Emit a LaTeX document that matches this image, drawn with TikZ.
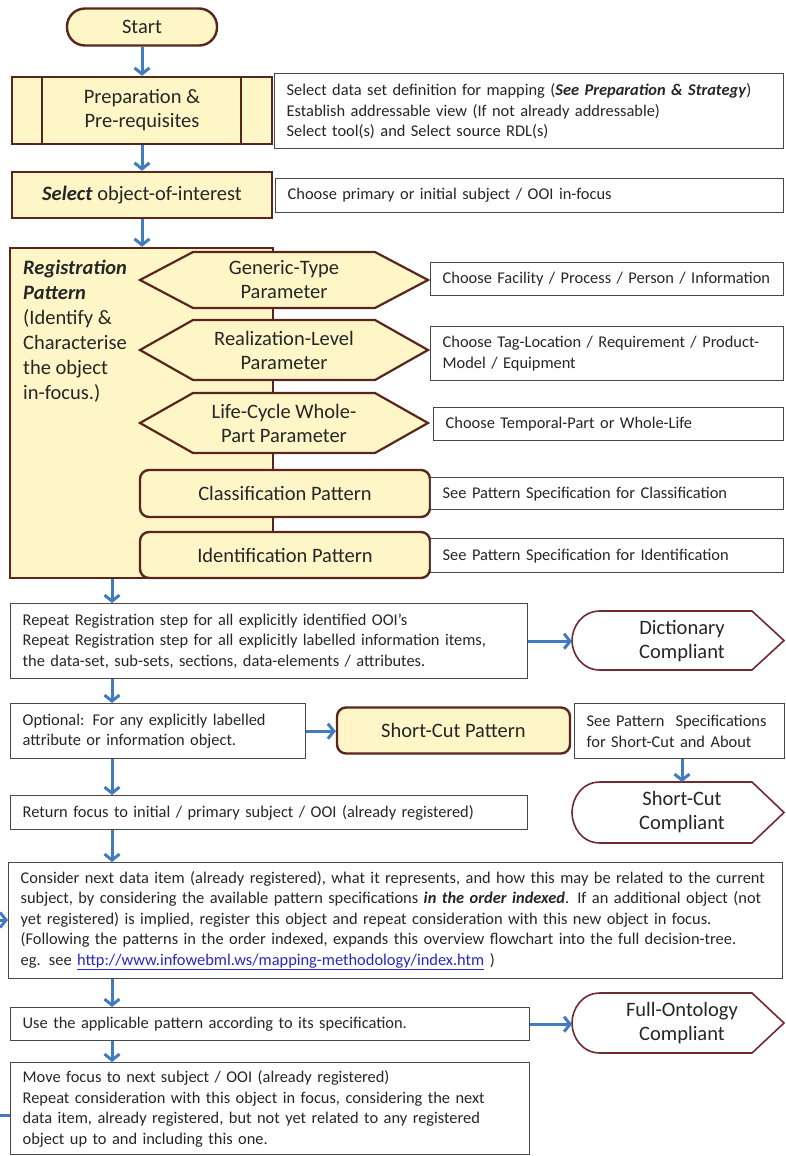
\documentclass[tikz,border=0pt]{standalone}
\usepackage{fontspec}
\setmainfont{Carlito}
\usetikzlibrary{calc,arrows.meta}

\definecolor{boxfill}{RGB}{255,246,200}
\definecolor{boxline}{RGB}{88,38,28}
\definecolor{flowblue}{RGB}{66,124,192}
\definecolor{noteline}{RGB}{72,72,72}
\definecolor{compline}{RGB}{112,42,52}
\definecolor{txt}{RGB}{38,38,38}
\definecolor{urlblue}{RGB}{40,40,190}

% display shape: name, top y, bottom y
\newcommand{\compbox}[3]{%
  \draw[compl] (600,#2) -- (752,#2) -- (784,{(#2+#3)/2}) -- (752,#3) -- (600,#3)
    .. controls (582,#3) and (572,{#3-16}) .. (572,{(#2+#3)/2})
    .. controls (572,{#2+16}) and (582,#2) .. (600,#2) -- cycle;
  \coordinate (#1) at (572,{(#2+#3)/2});
  \coordinate (#1top) at (682,#2);
}

\begin{document}
\begin{tikzpicture}[x=1pt,y=-1pt,
	every node/.style={text=txt},
	flow/.style={draw=boxline,line width=2.4pt,fill=boxfill,font=\fontsize{20.5}{24}\selectfont,align=center,inner sep=0pt},
	roundflow/.style={flow,rounded corners=9pt},
	lbl/.style={font=\fontsize{20.5}{24}\selectfont,align=center,inner sep=0pt},
	note/.style={draw=noteline,line width=1.4pt,fill=white,font=\fontsize{16.4}{20.5}\selectfont,align=left,inner xsep=12pt,inner ysep=0pt,anchor=north west},
	arr/.style={draw=flowblue,line width=3pt,-{Straight Barb[length=6pt,width=15pt]}},
	hexline/.style={draw=boxline,line width=2.2pt,fill=boxfill},
	compl/.style={draw=compline,line width=1.6pt,fill=white},
	comptext/.style={font=\fontsize{20.5}{24}\selectfont,align=center,inner sep=0pt}]
	\useasboundingbox (0,0) rectangle (786,1156);
	\def\hl{140}
	\def\hr{428}
	\def\hs{53}
	\coordinate (spine) at (112,0);

	% top part
	\node[flow,rounded corners=18pt,minimum width=150pt,minimum height=37pt] (start) at (142,27) {Start};
	\node[flow,minimum width=260pt,minimum height=67pt] (prep) at (142,110.5) {Preparation \&\\Pre-requisites};
	\draw[boxline,line width=2.4pt] ($(prep.north west)+(31,0)$) -- ($(prep.south west)+(31,0)$);
	\draw[boxline,line width=2.4pt] ($(prep.north east)+(-32,0)$) -- ($(prep.south east)+(-32,0)$);
	\node[note,text width=485pt,minimum height=75pt] (prepnote) at (274,73)
		{Select data set definition for mapping (\textbf{\textit{See Preparation \& Strategy}})\\
		Establish addressable view (If not already addressable)\\
		Select tool(s) and Select source RDL(s)};
	\node[flow,minimum width=260pt,minimum height=46pt] (select) at (142,195) {\textbf{\textit{Select}} object-of-interest};
	\node[note,text width=484pt,minimum height=34pt] (selnote) at (275,178) {Choose primary or initial subject / OOI in-focus};

	% registration pattern
	\node[flow,minimum width=263pt,minimum height=330pt] (reg) at (141.5,413) {};
	\node[lbl,align=left,anchor=north west] (regtext) at (23,259.5)
		{\textbf{\textit{Registration}}\\[1pt]\textbf{\textit{Pattern}}\\[1pt](Identify \&\\[1pt]Characterise\\[1pt]the object\\[1pt]in-focus.)};
	\draw[hexline] (\hl,280) -- (\hl+\hs,252) -- (\hr-\hs,252) -- (\hr,280) -- (\hr-\hs,308) -- (\hl+\hs,308) -- cycle;
	\node[lbl] (gen) at (284,280) {Generic-Type\\Parameter};
	\draw[hexline] (\hl,350) -- (\hl+\hs,320) -- (\hr-\hs,320) -- (\hr,350) -- (\hr-\hs,380) -- (\hl+\hs,380) -- cycle;
	\node[lbl] (real) at (284,350) {Realization-Level\\Parameter};
	\draw[hexline] (\hl,423) -- (\hl+\hs,393) -- (\hr-\hs,393) -- (\hr,423) -- (\hr-\hs,453) -- (\hl+\hs,453) -- cycle;
	\node[lbl] (life) at (284,423) {Life-Cycle Whole-\\Part Parameter};
	\node[roundflow,minimum width=290pt,minimum height=47pt] (class) at (285,493.5) {Classification Pattern};
	\node[roundflow,minimum width=290pt,minimum height=46pt] (ident) at (285,555) {Identification Pattern};

	\node[note,text width=329pt,minimum height=33pt] (gennote) at (430,262) {Choose Facility / Process / Person / Information};
	\node[note,text width=329pt,minimum height=54pt] (realnote) at (430,326) {Choose Tag-Location / Requirement / Product-\\Model / Equipment};
	\node[note,text width=326pt,minimum height=33pt] (lifenote) at (433,407) {Choose Temporal-Part or Whole-Life};
	\node[note,text width=329pt,minimum height=32pt] (classnote) at (430,477) {See Pattern Specification for Classification};
	\node[note,text width=329pt,minimum height=34pt] (identnote) at (430,538) {See Pattern Specification for Identification};

	% lower part
	\node[note,text width=493pt,minimum height=75pt] (repeat) at (10,603)
		{Repeat Registration step for all explicitly identified OOI’s\\
		Repeat Registration step for all explicitly labelled information items,\\
		the data-set, sub-sets, sections, data-elements / attributes.};
	\compbox{dict}{611}{670}
	\node[comptext] (dicttext) at (682,641) {Dictionary\\Compliant};
	\node[note,text width=271pt,minimum height=55pt] (optional) at (10,703)
		{Optional: For any explicitly labelled\\attribute or information object.};
	\node[roundflow,minimum width=233pt,minimum height=46pt] (shortcut) at (453.5,730.5) {Short-Cut Pattern};
	\node[note,text width=186pt,minimum height=55pt] (specnote) at (574,703)
		{See Pattern~~Specifications\\for Short-Cut and About};
	\compbox{sccomp}{782}{843}
	\node[comptext] (sctext) at (682,812.5) {Short-Cut\\Compliant};
	\node[note,text width=493pt,minimum height=34pt] (return) at (10,795)
		{Return focus to initial / primary subject / OOI (already registered)};
	\node[note,text width=750pt,minimum height=116pt] (consider) at (8,862)
		{\mbox{Consider next data item (already registered), what it represents, and how this may be related to the current}\\
		\mbox{subject, by considering the available pattern specifications \textbf{\textit{in the order indexed}}. If an additional object (not}\\
		yet registered) is implied, register this object and repeat consideration with this new object in focus.\\
		(Following the patterns in the order indexed, expands this overview flowchart into the full decision-tree.\\
		eg. see \textcolor{urlblue}{\underline{http://www.infowebml.ws/mapping-methodology/index.htm}} )};
	\node[note,text width=495pt,minimum height=33pt] (use) at (10,1007)
		{Use the applicable pattern according to its specification.};
	\compbox{fullcomp}{993}{1053}
	\node[comptext] (fulltext) at (682,1023) {Full-Ontology\\Compliant};
	\node[note,text width=495pt,minimum height=92pt] (move) at (10,1062)
		{Move focus to next subject / OOI (already registered)\\
		Repeat consideration with this object in focus, considering the next\\
		data item, already registered, but not yet related to any registered\\
		object up to and including this one.};

	% arrows
	\draw[arr] (start) -- (prep);
	\draw[arr] (prep) -- (select);
	\draw[arr] (select) -- (reg.north -| select);
	\draw[arr] (reg.south -| spine) -- (repeat.north -| spine);
	\draw[arr] (repeat.east) -- (repeat.east -| dict);
	\draw[arr] (repeat.south -| spine) -- (optional.north -| spine);
	\draw[arr] (optional.east) -- (optional.east -| shortcut.west);
	\draw[arr] (specnote.south -| sccomptop) -- (sccomptop);
	\draw[arr] (optional.south -| spine) -- (return.north -| spine);
	\draw[arr] (return.south -| spine) -- (consider.north -| spine);
	\draw[arr] (consider.south -| spine) -- (use.north -| spine);
	\draw[arr] (use.east) -- (use.east -| fullcomp);
	\draw[arr] (use.south -| spine) -- (move.north -| spine);
	\coordinate (backa) at (0,920);
	\coordinate (backb) at (0,1115);
	\draw[arr] (backa) -- (backa -| consider.west);
	\draw[flowblue,line width=3pt] (backb) -- (backb -| move.west);
\end{tikzpicture}
\end{document}
